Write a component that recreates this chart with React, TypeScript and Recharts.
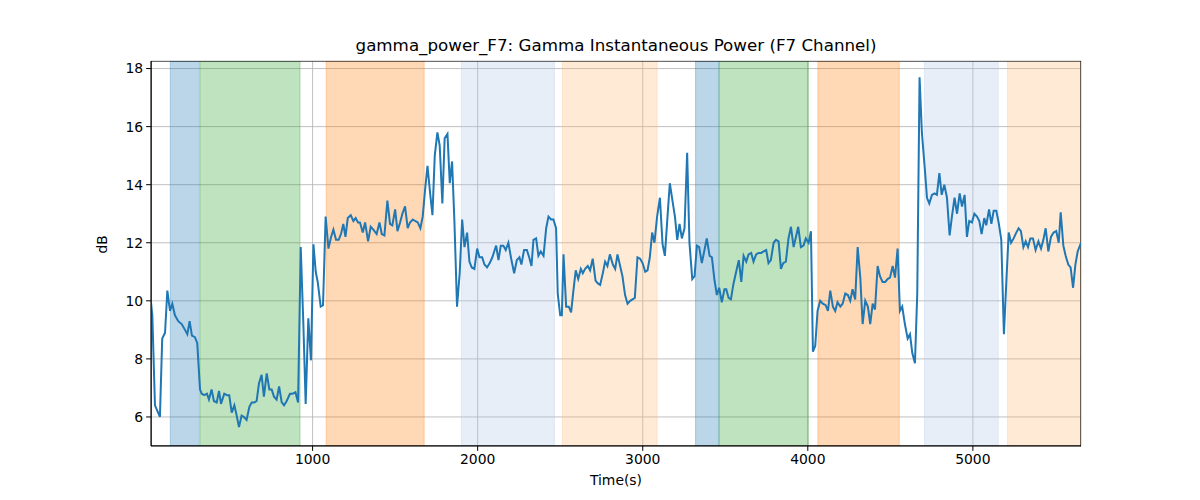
import React from "react";
import {
  LineChart,
  Line,
  XAxis,
  YAxis,
  CartesianGrid,
  ReferenceArea,
} from "recharts";

// time stamps (s) and gamma power (dB)
const times = [
  21, 29, 45, 75, 89, 106, 120, 136, 150, 166, 186, 207, 227, 241, 255, 269, 287, 301,
  318, 328, 344, 360, 372, 388, 402, 419, 433, 445, 465, 481, 495, 510, 526, 538, 554,
  570, 584, 600, 617, 631, 647, 661, 675, 691, 705, 722, 738, 752, 766, 782, 797, 813,
  827, 843, 863, 879, 896, 912, 928, 944, 958, 974, 990, 1005, 1019, 1031, 1049, 1063,
  1079, 1096, 1112, 1126, 1142, 1158, 1172, 1186, 1199, 1213, 1231, 1247, 1261, 1275,
  1287, 1304, 1318, 1336, 1352, 1368, 1388, 1405, 1419, 1435, 1453, 1469, 1483, 1500,
  1514, 1530, 1544, 1560, 1576, 1590, 1607, 1621, 1637, 1653, 1667, 1681, 1696, 1712,
  1726, 1740, 1756, 1770, 1786, 1800, 1817, 1831, 1845, 1859, 1875, 1891, 1906, 1920,
  1936, 1950, 1964, 1980, 1997, 2011, 2027, 2041, 2057, 2073, 2089, 2106, 2112, 2126,
  2140, 2156, 2170, 2186, 2203, 2221, 2237, 2253, 2265, 2281, 2298, 2312, 2326, 2338,
  2354, 2368, 2382, 2399, 2415, 2429, 2445, 2459, 2475, 2485, 2500, 2510, 2520, 2536,
  2552, 2566, 2580, 2594, 2609, 2625, 2637, 2651, 2667, 2681, 2697, 2714, 2728, 2742,
  2758, 2772, 2786, 2801, 2819, 2833, 2847, 2863, 2877, 2893, 2908, 2924, 2938, 2952,
  2968, 2984, 2999, 3015, 3029, 3043, 3057, 3071, 3087, 3104, 3120, 3134, 3150, 3164,
  3180, 3195, 3209, 3223, 3237, 3253, 3269, 3283, 3300, 3314, 3328, 3342, 3358, 3374,
  3388, 3405, 3419, 3435, 3449, 3463, 3479, 3495, 3506, 3520, 3534, 3550, 3566, 3582,
  3597, 3611, 3627, 3641, 3657, 3671, 3687, 3702, 3718, 3732, 3748, 3762, 3776, 3793,
  3807, 3823, 3837, 3851, 3867, 3883, 3898, 3914, 3928, 3942, 3958, 3974, 3988, 4005,
  4019, 4031, 4045, 4059, 4075, 4091, 4108, 4122, 4136, 4152, 4166, 4180, 4197, 4211,
  4227, 4243, 4257, 4271, 4287, 4302, 4318, 4332, 4348, 4364, 4378, 4393, 4407, 4423,
  4437, 4453, 4469, 4483, 4498, 4514, 4528, 4544, 4558, 4572, 4588, 4605, 4619, 4633,
  4649, 4663, 4677, 4691, 4708, 4722, 4736, 4752, 4768, 4782, 4797, 4811, 4827, 4843,
  4859, 4873, 4889, 4904, 4920, 4934, 4950, 4964, 4978, 4994, 5009, 5025, 5039, 5053,
  5069, 5081, 5098, 5112, 5126, 5142, 5156, 5172, 5188, 5203, 5217, 5231, 5247, 5263,
  5277, 5291, 5306, 5320, 5334, 5348, 5364, 5380, 5397, 5413, 5427, 5441, 5457, 5473,
  5489, 5505, 5520, 5532, 5548, 5562, 5578, 5592, 5607, 5621, 5635, 5655,
];

const power = [
  9.95, 9.5, 6.4, 6.0, 8.7, 8.9, 10.35, 9.65, 9.9, 9.5, 9.3, 9.2, 9.0, 8.85, 9.3, 8.8, 8.75, 8.55,
  6.95, 6.8, 6.75, 6.8, 6.6, 6.95, 6.55, 6.5, 6.9, 6.45, 6.8, 6.75, 6.75, 6.15, 6.4, 6.1, 5.65,
  6.05, 6.0, 5.9, 6.35, 6.5, 6.5, 6.55, 7.15, 7.45, 6.7, 7.5, 6.95, 6.95, 6.7, 6.6, 7.05, 6.5,
  6.4, 6.55, 6.8, 6.8, 6.85, 6.5, 11.85, 9.2, 6.45, 9.4, 7.95, 11.95, 11.0, 10.65, 9.8, 9.85,
  12.9, 11.8, 12.2, 12.45, 12.1, 12.1, 12.3, 12.65, 12.2, 12.85, 12.95, 12.75, 12.85, 12.7,
  12.7, 12.35, 12.7, 12.05, 12.55, 12.45, 12.3, 12.7, 12.3, 12.25, 13.45, 12.65, 12.6, 13.15,
  12.4, 12.7, 13.0, 13.25, 12.5, 12.7, 12.8, 12.75, 12.7, 12.5, 12.9, 13.8, 14.65, 13.7,
  12.95, 15.0, 15.8, 15.35, 13.35, 15.6, 15.75, 14.05, 14.8, 12.75, 9.8, 10.95, 12.8, 11.85,
  12.35, 11.35, 11.15, 11.1, 11.8, 11.5, 11.5, 11.25, 11.15, 11.3, 11.5, 11.8, 11.9, 11.4,
  11.9, 11.9, 11.75, 12.0, 11.45, 10.95, 11.4, 11.5, 11.25, 11.75, 11.75, 11.5, 11.2, 12.1,
  12.15, 11.55, 11.7, 11.55, 12.5, 12.9, 12.8, 12.8, 12.5, 10.25, 9.5, 9.5, 11.6, 9.8,
  9.8, 9.6, 10.35, 11.05, 10.75, 11.1, 10.95, 11.1, 11.2, 11.05, 11.45, 10.7, 10.6, 10.55,
  10.95, 11.35, 11.2, 11.6, 11.25, 11.1, 11.6, 11.2, 10.85, 10.2, 9.9, 10.0, 10.05, 10.1,
  11.5, 11.45, 11.3, 11.0, 11.05, 11.5, 12.35, 12.0, 12.9, 13.55, 11.95, 11.55, 12.9, 14.05,
  13.45, 12.9, 12.1, 12.65, 12.15, 12.5, 15.1, 12.0, 10.75, 10.85, 11.9, 11.85, 11.3, 11.75,
  12.15, 11.55, 11.5, 10.7, 10.2, 10.45, 9.95, 10.4, 10.4, 10.1, 10.05, 10.6, 11.0, 11.4,
  10.65, 11.55, 11.35, 11.6, 11.65, 11.35, 11.6, 11.65, 11.65, 11.7, 11.75, 11.3, 11.4, 12.0,
  12.1, 12.05, 11.1, 11.3, 11.35, 12.15, 12.55, 11.85, 12.2, 12.55, 11.85, 11.9, 12.15, 12.0,
  12.4, 8.25, 8.45, 9.65, 10.0, 9.9, 9.85, 9.65, 10.35, 9.8, 9.65, 9.95, 9.8, 9.9,
  10.25, 10.2, 10.0, 10.4, 10.05, 11.85, 10.8, 9.2, 10.0, 9.8, 9.2, 9.9, 9.7, 11.2,
  10.85, 10.65, 10.65, 10.75, 10.8, 11.2, 10.8, 11.8, 9.65, 9.8, 9.2, 8.7, 8.85, 8.2,
  7.85, 10.25, 17.7, 15.8, 14.6, 13.55, 13.35, 13.65, 13.7, 13.65, 14.4, 13.65, 14.0, 13.55,
  12.25, 12.9, 13.55, 13.0, 13.7, 13.25, 13.65, 12.2, 12.75, 12.7, 13.0, 12.9, 12.75, 12.3,
  12.85, 12.6, 13.15, 12.65, 13.1, 13.1, 12.7, 12.1, 8.85, 10.7, 12.35, 12.0, 12.15, 12.35,
  12.5, 12.4, 11.85, 12.05, 11.85, 12.15, 12.15, 11.75, 12.05, 11.8, 12.1, 12.5, 11.7, 12.2,
  12.35, 12.4, 12.0, 13.05, 11.9, 11.55, 11.25, 11.15, 10.45, 11.25, 11.7, 12.0,
];

// shaded segments (s)
const bandStart = [138, 320, 1082, 1901, 2513, 3320, 3462, 4061, 4707, 5210];
const bandEnd = [314, 924, 1676, 2465, 3087, 3462, 4003, 4554, 5154, 5655];
const bandColor = [
  "#1f77b4", "#2ca02c", "#ff7f0e", "#aec7e8", "#ffbb78",
  "#1f77b4", "#2ca02c", "#ff7f0e", "#aec7e8", "#ffbb78",
];

const xTicks = [1000, 2000, 3000, 4000, 5000];
const yTicks = [6, 8, 10, 12, 14, 16, 18];

const data = times.map((t, i) => ({ t, v: power[i] }));

const font = "'DejaVu Sans', sans-serif";
const tickStyle = { fill: "#000", fontSize: 13.9, fontFamily: font };

export default function App() {
  return (
    <div style={{ position: "absolute", left: 0, top: 0, width: 1200, height: 500, background: "#fff" }}>
      <div
        style={{
          position: "absolute",
          left: 151,
          width: 930,
          top: 35,
          textAlign: "center",
          fontFamily: font,
          fontSize: 16.7,
          color: "#000",
        }}
      >
        gamma_power_F7: Gamma Instantaneous Power (F7 Channel)
      </div>
      <LineChart
        width={1200}
        height={500}
        data={data}
        margin={{ top: 61, right: 119, bottom: 24, left: 0 }}
      >
        <CartesianGrid stroke="#b0b0b0" strokeWidth={0.8} />
        {bandStart.map((s, i) => (
          <ReferenceArea
            key={i}
            x1={s}
            x2={bandEnd[i]}
            y1={5.0}
            y2={18.26}
            fill={bandColor[i]}
            fillOpacity={0.3}
            stroke={bandColor[i]}
            strokeOpacity={0.3}
            ifOverflow="hidden"
          />
        ))}
        <XAxis
          type="number"
          dataKey="t"
          domain={[21, 5655]}
          ticks={xTicks}
          allowDataOverflow
          height={30}
          tick={tickStyle}
          tickSize={4.9}
          tickMargin={3}
          tickLine={{ stroke: "#000" }}
          axisLine={{ stroke: "#000" }}
          label={{ value: "Time(s)", position: "insideBottom", offset: -9, style: tickStyle }}
        />
        <YAxis
          type="number"
          domain={[5.0, 18.26]}
          ticks={yTicks}
          allowDataOverflow
          width={151}
          tick={tickStyle}
          tickSize={4.9}
          tickMargin={3}
          tickLine={{ stroke: "#000" }}
          axisLine={{ stroke: "#000" }}
          label={{ value: "dB", angle: -90, position: "insideLeft", offset: 102, style: tickStyle }}
        />
        <Line
          type="linear"
          dataKey="v"
          stroke="#1f77b4"
          strokeWidth={2}
          dot={false}
          isAnimationActive={false}
        />
        <ReferenceArea
          x1={21}
          x2={5655}
          y1={5.0}
          y2={18.26}
          fill="none"
          stroke="#000"
          strokeWidth={1.1}
          ifOverflow="hidden"
        />
      </LineChart>
    </div>
  );
}
